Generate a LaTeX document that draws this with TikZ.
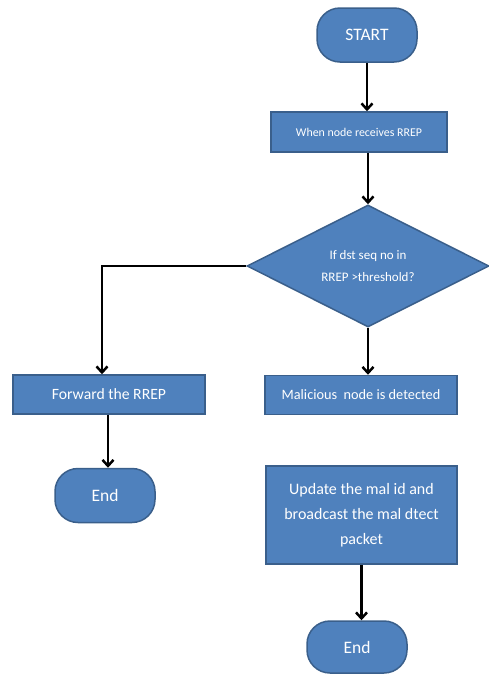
\documentclass[tikz,border=0pt]{standalone}
\usepackage{fontspec}
\setmainfont{Carlito}
\usetikzlibrary{shapes.geometric,arrows.meta}
\definecolor{boxfill}{HTML}{4F81BD}
\definecolor{boxedge}{HTML}{3A5F8B}
\tikzset{
  flowbox/.style={draw=boxedge, fill=boxfill, line width=1.5pt, text=white,
    inner sep=0pt, align=center, font=\fontsize{12}{15}\selectfont},
  terminal/.style={flowbox, rounded corners=23pt, minimum width=100pt,
    minimum height=54pt, font=\fontsize{17.5}{20}\selectfont},
  process/.style={flowbox, minimum width=#1},
  decision/.style={flowbox, shape=diamond, aspect=2, minimum width=242pt,
    minimum height=122pt, font=\fontsize{13}{22}\selectfont},
  flow/.style={line width=2.5pt, -{Straight Barb[length=6pt,width=11pt,line width=2.5pt]}}
}
\begin{document}
\begin{tikzpicture}[x=1pt,y=-1pt]
\useasboundingbox (0,0) rectangle (489,675);

\node[terminal] (start) at (367,35) {START};
\node[process=176pt, minimum height=40pt, font=\fontsize{11.9}{14}\selectfont] (recv) at (359,132) {When node receives RREP};
\node[decision] (dec) at (368,266) {If dst seq no in\\RREP >threshold?};
\node[process=192pt, minimum height=39pt, font=\fontsize{15.7}{18}\selectfont] (fwd) at (109,394.5) {Forward the RREP};
\node[process=192pt, minimum height=39pt, font=\fontsize{14.3}{17}\selectfont] (mal) at (361,395) {Malicious\ \ node is detected};
\node[terminal] (end1) at (105,495.5) {End};
\node[process=191pt, minimum height=98pt, font=\fontsize{16}{25}\selectfont] (upd) at (361.5,515) {Update the mal id and\\broadcast the mal dtect\\packet};
\node[terminal, minimum height=52pt] (end2) at (357,647) {End};

\draw[flow] (start.south) -- (start.south |- recv.north);
\draw[flow] (dec.north |- recv.south) -- (dec.north);
\draw[flow] (dec.west) -| ([xshift=-7pt]fwd.north);
\draw[flow] (dec.south) -- (dec.south |- mal.north);
\draw[flow] ([xshift=-1pt]fwd.south) -- ([xshift=-1pt]fwd.south |- end1.north);
\draw[flow] (upd.south) -- (upd.south |- end2.north);
\end{tikzpicture}
\end{document}
